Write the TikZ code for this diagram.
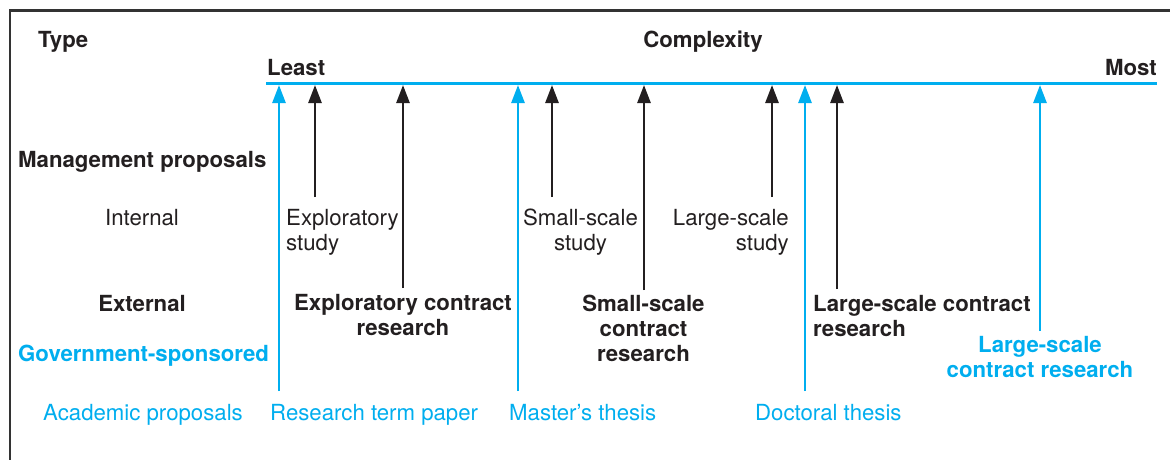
\documentclass[tikz,border=0pt]{standalone}
\usepackage{fontspec}
\setmainfont{TeX Gyre Heros}
\usetikzlibrary{arrows.meta}
\definecolor{ink}{HTML}{231F20}
\definecolor{cyanb}{HTML}{00AEEF}
\definecolor{framec}{HTML}{333333}
\begin{document}
\begin{tikzpicture}[x=1pt,y=-1pt,
  lbl/.style={inner sep=0pt, font=\fontsize{22.2}{25}\selectfont, text=ink},
  blbl/.style={lbl, font=\fontsize{22.2}{25}\selectfont\bfseries},
  clbl/.style={lbl, text=cyanb},
  cblbl/.style={blbl, text=cyanb},
  axisline/.style={draw=cyanb, line width=2.2pt},
  blackarrow/.style={draw=ink, line width=2.6pt, -{Triangle[width=13pt,length=18pt]}},
  cyanarrow/.style={draw=cyanb, line width=2.6pt, -{Triangle[width=13pt,length=18pt]}},
  framestyle/.style={draw=framec, line width=2.6pt}
]
\useasboundingbox (0,0) rectangle (1170,460);
\fill[white] (0,0) rectangle (1170,460);
% frame
\draw[framestyle] (10,460) -- (10,10.5) -- (1170,10.5);

% headers
\node[blbl, anchor=base west] (type) at (38,48) {Type};
\node[blbl, anchor=base] (complexity) at (703,48) {Complexity};
\node[blbl, anchor=base west] (least) at (267,75) {Least};
\node[blbl, anchor=base east] (most) at (1157,75) {Most};

% axis
\coordinate (axL) at (266,83.5);
\coordinate (axR) at (1157,83.5);
\draw[axisline] (axL) -- (axR);

% left column
\node[blbl, anchor=base west] (mgmt) at (18,167) {Management proposals};
\node[lbl, anchor=base] (internal) at (142,225) {Internal};
\node[blbl, anchor=base] (external) at (142,311) {External};
\node[cblbl, anchor=base west] (gov) at (18,361) {Government-sponsored};
\node[clbl, anchor=base] (acad) at (143,420) {Academic proposals};

% academic row
\node[clbl, anchor=base west] (rtp) at (270,420) {Research term paper};
\node[clbl, anchor=base west] (master) at (509,420) {Master’s thesis};
\node[clbl, anchor=base west] (doctoral) at (755,420) {Doctoral thesis};

% internal row (anchor = baseline of last line)
\node[lbl, anchor=base west, align=left] (expstudy) at (286,250) {Exploratory\\study};
\node[lbl, anchor=base, align=center] (smallstudy) at (580.5,250) {Small-scale\\study};
\node[lbl, anchor=base east, align=right] (largestudy) at (789,250) {Large-scale\\study};

% external row
\node[blbl, anchor=base, align=center] (expcontract) at (403,335) {Exploratory contract\\research};
\node[blbl, anchor=base, align=center] (smallcontract) at (643.5,361) {Small-scale\\contract\\research};
\node[blbl, anchor=base west, align=left] (largecontract) at (813,336) {Large-scale contract\\research};

% government row
\node[cblbl, anchor=base, align=center] (govcontract) at (1040,377) {Large-scale\\contract research};

% arrow start points
\coordinate (s1) at (279,391);
\coordinate (s2) at (315,197);
\coordinate (s3) at (403,288);
\coordinate (s4) at (518,391);
\coordinate (s5) at (552,197);
\coordinate (s6) at (644,290);
\coordinate (s7) at (772,197);
\coordinate (s8) at (805,391);
\coordinate (s9) at (837,289);
\coordinate (s10) at (1040,331);
% arrow tips on axis
\coordinate (t1) at (279,85);
\coordinate (t2) at (315,85);
\coordinate (t3) at (403,85);
\coordinate (t4) at (518,85);
\coordinate (t5) at (552,85);
\coordinate (t6) at (644,85);
\coordinate (t7) at (772,85);
\coordinate (t8) at (805,85);
\coordinate (t9) at (837,85);
\coordinate (t10) at (1040,85);

\draw[cyanarrow] (s1) -- (t1);
\draw[blackarrow] (s2) -- (t2);
\draw[blackarrow] (s3) -- (t3);
\draw[cyanarrow] (s4) -- (t4);
\draw[blackarrow] (s5) -- (t5);
\draw[blackarrow] (s6) -- (t6);
\draw[blackarrow] (s7) -- (t7);
\draw[cyanarrow] (s8) -- (t8);
\draw[blackarrow] (s9) -- (t9);
\draw[cyanarrow] (s10) -- (t10);
\end{tikzpicture}
\end{document}
